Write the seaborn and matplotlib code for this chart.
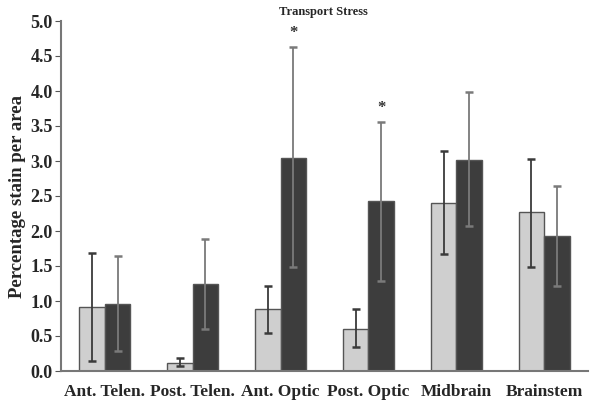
import numpy as np
import pandas as pd
import seaborn as sns
from matplotlib import pyplot as plt

regions = ["Ant. Telen.", "Post. Telen.", "Ant. Optic", "Post. Optic", "Midbrain", "Brainstem"]
groups = ["Control", "Transport"]
control_mean = [0.92, 0.11, 0.89, 0.60, 2.40, 2.27]
control_low = [0.15, 0.07, 0.55, 0.34, 1.67, 1.49]
control_high = [1.68, 0.18, 1.22, 0.88, 3.14, 3.03]
stress_mean = [0.96, 1.24, 3.05, 2.43, 3.01, 1.93]
stress_low = [0.29, 0.60, 1.49, 1.29, 2.07, 1.21]
stress_high = [1.64, 1.89, 4.63, 3.56, 3.98, 2.65]
significant = [False, False, True, True, False, False]

df = pd.DataFrame({
    "region": regions * 2,
    "group": [groups[0]] * 6 + [groups[1]] * 6,
    "value": control_mean + stress_mean,
})

sns.set_style("white")
plt.rcParams["font.family"] = ["Liberation Serif", "DejaVu Serif"]

fig = plt.figure(figsize=(6, 4.03), dpi=100)
ax = fig.add_axes([61 / 600, 32 / 403, 527 / 600, 350 / 403])

sns.barplot(
    data=df, x="region", y="value", hue="group", order=regions, hue_order=groups,
    palette=["#cfcfcf", "#3d3d3d"], width=0.58, gap=0, errorbar=None,
    edgecolor="#555555", linewidth=1.0, legend=False, ax=ax,
)

# error bars, asymmetric, placed at the centres of seaborn's bars
means = [control_mean, stress_mean]
lows = [control_low, stress_low]
highs = [control_high, stress_high]
err_colors = ["#3a3a3a", "#7a7a7a"]
bar_containers = list(ax.containers)
for k, container in enumerate(bar_containers):
    xs = [p.get_x() + p.get_width() / 2 for p in container.patches]
    m = np.array(means[k])
    yerr = [m - np.array(lows[k]), np.array(highs[k]) - m]
    ax.errorbar(xs, m, yerr=yerr, fmt="none", ecolor=err_colors[k],
                elinewidth=1.3, capsize=3, capthick=1.8)
    if k == 1:
        for x, h, s in zip(xs, highs[k], significant):
            if s:
                ax.text(x, h + 0.2, "*", ha="center", va="center",
                        fontsize=12, fontweight="bold", color="#333333")

ax.set_xlim(-0.5, 5.5)
ax.set_ylim(0, 5.0)
ax.set_yticks(np.arange(0, 5.01, 0.5))
ax.set_yticklabels([f"{v:.1f}" for v in np.arange(0, 5.01, 0.5)],
                   fontsize=13, fontweight="bold")
ax.set_xticks(range(6))
ax.set_xticklabels(regions, fontsize=12.5, fontweight="bold")
ax.tick_params(axis="x", length=0, pad=9)
ax.set_xticks(np.arange(-0.5, 5.6, 1), minor=True)
ax.tick_params(axis="x", which="minor", length=4, color="#555555", direction="out")
ax.tick_params(axis="y", length=4, color="#555555", direction="out", left=True, pad=2)
ax.set_xlabel("")
ax.set_ylabel("Percentage stain per area", fontsize=13.5, fontweight="bold", labelpad=3)

for side in ["top", "right"]:
    ax.spines[side].set_visible(False)
for side in ["left", "bottom"]:
    ax.spines[side].set_color("#777777")
    ax.spines[side].set_linewidth(1.5)

fig.text(323 / 600, 1 - 12 / 403, "Transport Stress", ha="center", va="center",
         fontsize=9, fontweight="bold")

fig.savefig("out.png", dpi=100)
